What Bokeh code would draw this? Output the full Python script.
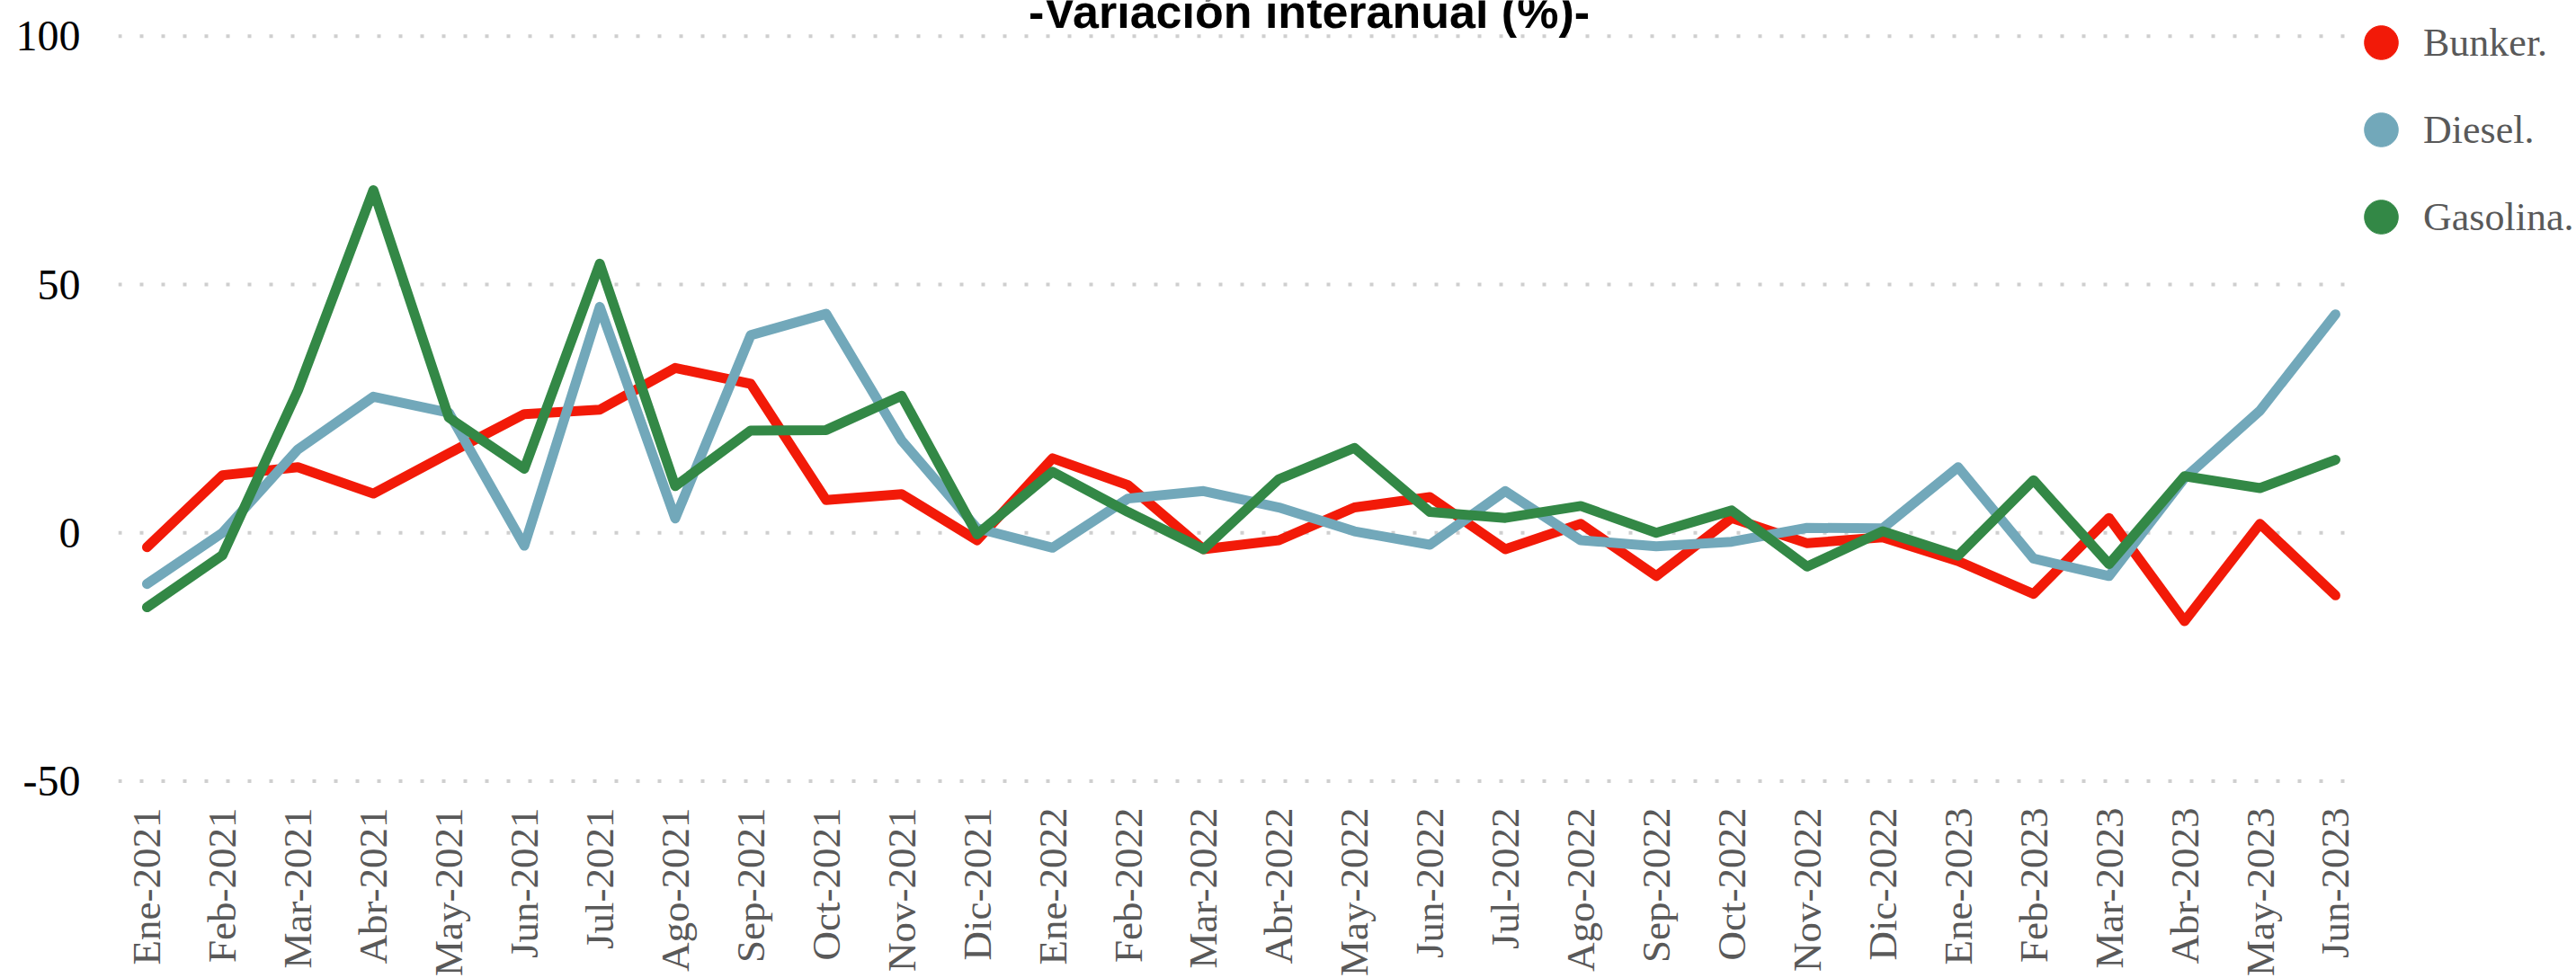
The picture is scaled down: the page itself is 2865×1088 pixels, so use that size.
from bokeh.plotting import figure
from bokeh.models import Range1d, FixedTicker, Legend, LegendItem, Label
from bokeh.embed import file_html
from bokeh.resources import INLINE
import math

meses = ["Ene-2021", "Feb-2021", "Mar-2021", "Abr-2021", "May-2021", "Jun-2021",
         "Jul-2021", "Ago-2021", "Sep-2021", "Oct-2021", "Nov-2021", "Dic-2021",
         "Ene-2022", "Feb-2022", "Mar-2022", "Abr-2022", "May-2022", "Jun-2022",
         "Jul-2022", "Ago-2022", "Sep-2022", "Oct-2022", "Nov-2022", "Dic-2022",
         "Ene-2023", "Feb-2023", "Mar-2023", "Abr-2023", "May-2023", "Jun-2023"]

bunker = [-2.9, 11.6, 13.2, 7.9, 16.0, 23.9, 24.8, 33.2, 30.0, 6.6, 7.8, -1.5,
          15.0, 9.6, -3.3, -1.5, 5.1, 7.2, -3.3, 1.8, -8.7, 3.0, -2.1, -0.9,
          -5.7, -12.3, 3.0, -17.8, 1.8, -12.6]
diesel = [-10.3, 0.0, 16.8, 27.4, 24.2, -2.6, 45.5, 2.9, 39.8, 44.1, 18.6, 0.9,
          -3.0, 6.9, 8.4, 5.1, 0.3, -2.4, 8.4, -1.5, -2.7, -1.8, 1.0, 0.9,
          13.2, -5.2, -8.7, 11.0, 24.6, 44.0]
gasolina = [-15.0, -4.5, 28.7, 69.0, 23.2, 12.9, 54.2, 9.4, 20.6, 20.7, 27.6, -0.3,
            12.3, 4.2, -3.3, 10.8, 17.1, 4.2, 3.0, 5.4, 0.0, 4.5, -6.8, 0.3,
            -4.6, 10.6, -6.3, 11.4, 9.0, 14.7]

series_names = ["Bunker.", "Diesel.", "Gasolina."]
series_colors = ["#F21A08", "#72A8BA", "#338846"]
y_ticks = [-50, 0, 50, 100]
title_text = "-Variación interanual (%)-"

xs = list(range(len(meses)))

# plotting area of the original chart (category padding on both sides)
X_LO, X_HI = -0.381, 29.346

p = figure(width=2865, height=1088, output_backend="svg", toolbar_location=None,
           x_range=Range1d(X_LO, 32.194), y_range=Range1d(-51, 107.2),
           min_border_top=0, min_border_left=131, min_border_right=0,
           min_border_bottom=10)
p.title.visible = False
p.outline_line_color = None
p.background_fill_color = "white"
p.border_fill_color = "white"

# axes
p.xaxis.ticker = FixedTicker(ticks=xs)
p.xaxis.major_label_overrides = {i: m for i, m in zip(xs, meses)}
p.xaxis.major_label_orientation = math.pi / 2
p.xaxis.major_label_text_font = "Liberation Serif"
p.xaxis.major_label_text_font_size = "45px"
p.xaxis.major_label_text_color = "#595959"
p.xaxis.major_label_standoff = 24
p.xaxis.axis_line_color = None
p.xaxis.major_tick_line_color = None
p.xaxis.minor_tick_line_color = None
p.xaxis.major_tick_out = 0

p.yaxis.ticker = FixedTicker(ticks=y_ticks)
p.yaxis.major_label_overrides = {t: str(t) for t in y_ticks}
p.yaxis.major_label_text_font = "Liberation Serif"
p.yaxis.major_label_text_font_size = "48px"
p.yaxis.major_label_text_color = "black"
p.yaxis.major_label_standoff = 42
p.yaxis.axis_line_color = None
p.yaxis.major_tick_line_color = None
p.yaxis.minor_tick_line_color = None
p.yaxis.major_tick_out = 0

# dotted horizontal gridlines limited to the original plotting area
p.xgrid.grid_line_color = None
p.ygrid.grid_line_color = None
p.segment(x0=[X_LO] * len(y_ticks), x1=[X_HI] * len(y_ticks), y0=y_ticks, y1=y_ticks,
          line_color="#CFCFCF", line_width=4, line_dash="4 20")

# lines, plus a tiny marker at each series' first point (hidden under the
# line's round cap) that provides the circle glyph for the legend
items = []
for name, vals, col in zip(series_names, [bunker, diesel, gasolina], series_colors):
    p.line(xs, vals, line_color=col, line_width=11, line_join="round", line_cap="round")
    r = p.scatter(x=xs[:1], y=vals[:1], marker="circle", fill_color=col,
                  line_color=col, size=8)
    items.append(LegendItem(label=name, renderers=[r]))

legend = Legend(items=items, location=(2470, 586), glyph_width=94, glyph_height=94,
                label_standoff=0, spacing=3, padding=0, margin=0,
                border_line_color=None, background_fill_alpha=0,
                label_text_font="Liberation Serif", label_text_font_size="44px",
                label_text_color="#595959", label_text_baseline="middle")
p.add_layout(legend, "center")

title = Label(x=15.40, y=104.86, text=title_text, text_align="center",
              text_baseline="middle", text_font="Liberation Sans",
              text_font_style="bold", text_font_size="52px", text_color="black")
p.add_layout(title)

open("out.html", "w").write(file_html(p, INLINE))
